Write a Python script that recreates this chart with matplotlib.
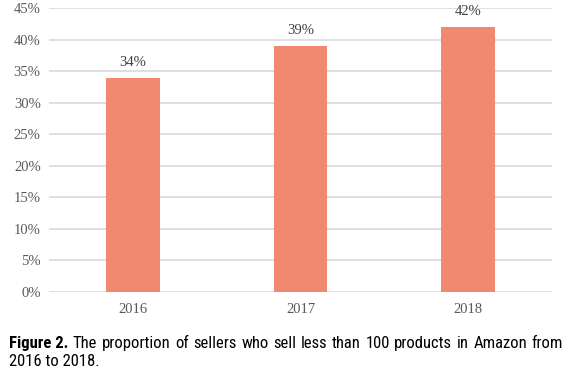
import matplotlib
matplotlib.use('Agg')
from matplotlib import pyplot as plt
from matplotlib import font_manager
import numpy as np

years = ['2016', '2017', '2018']
shares = [34, 39, 42]
y_ticks = [0, 5, 10, 15, 20, 25, 30, 35, 40, 45]

caption_bold = 'Figure 2.'
caption_line1 = 'The proportion of sellers who sell less than 100 products in Amazon from'
caption_line2 = '2016 to 2018.'

BAR_COLOR = '#F0896F'
GRID_COLOR = '#D9D9D9'
TICK_COLOR = '#595959'
SERIF = 'Liberation Serif'

# pick a narrow sans for the caption if one exists
names = {f.name for f in font_manager.fontManager.ttflist}
cap_font = {'family': 'DejaVu Sans', 'stretch': 'condensed'}
for cand in ['Liberation Sans Narrow', 'Roboto Condensed', 'Open Sans Condensed']:
    if cand in names:
        cap_font = {'family': cand}
        break

fig = plt.figure(figsize=(5.74, 3.81), dpi=100)
ax = fig.add_axes([49 / 574, 1 - 292 / 381, (552 - 49) / 574, (292 - 8.3) / 381])

x = np.arange(len(years))
ax.bar(x, shares, width=0.32, color=BAR_COLOR, zorder=2)
for xi, v in zip(x, shares):
    ax.annotate(f'{v}%', (xi, v), xytext=(0, 11), textcoords='offset points',
                ha='center', va='center', fontsize=10.5, family=SERIF, color='#404040')

ax.set_xlim(-0.5, 2.5)
ax.set_ylim(0, 45)
ax.set_yticks(y_ticks)
ax.set_yticklabels([f'{t}%' for t in y_ticks])
ax.set_xticks(x)
ax.set_xticklabels(years)
ax.yaxis.grid(True, color=GRID_COLOR, linewidth=1.2, zorder=0)
ax.set_axisbelow(True)
for s in ax.spines.values():
    s.set_visible(False)
ax.tick_params(axis='y', length=0, pad=6, labelsize=10.5, labelcolor=TICK_COLOR)
ax.tick_params(axis='x', length=0, pad=8, labelsize=10.5, labelcolor=TICK_COLOR)
for lab in ax.get_xticklabels() + ax.get_yticklabels():
    lab.set_family(SERIF)

# caption, first line justified across the figure width
fig.canvas.draw()
renderer = fig.canvas.get_renderer()
left, right = 9 / 574, 563 / 574
y1, y2 = 1 - 348 / 381, 1 - 366.5 / 381
words = [(caption_bold, 'bold')] + [(w, 'normal') for w in caption_line1.split()]
texts = []
for w, weight in words:
    t = fig.text(0, y1, w, fontsize=12, fontweight=weight, va='baseline', ha='left',
                 color='black', **cap_font)
    texts.append(t)
widths = [t.get_window_extent(renderer).width / fig.bbox.width for t in texts]
gap = (right - left - sum(widths)) / (len(texts) - 1)
pos = left
for t, wd in zip(texts, widths):
    t.set_x(pos)
    pos += wd + gap
fig.text(left, y2, caption_line2, fontsize=12, va='baseline', ha='left', color='black', **cap_font)

fig.savefig('out.png', dpi=100)
